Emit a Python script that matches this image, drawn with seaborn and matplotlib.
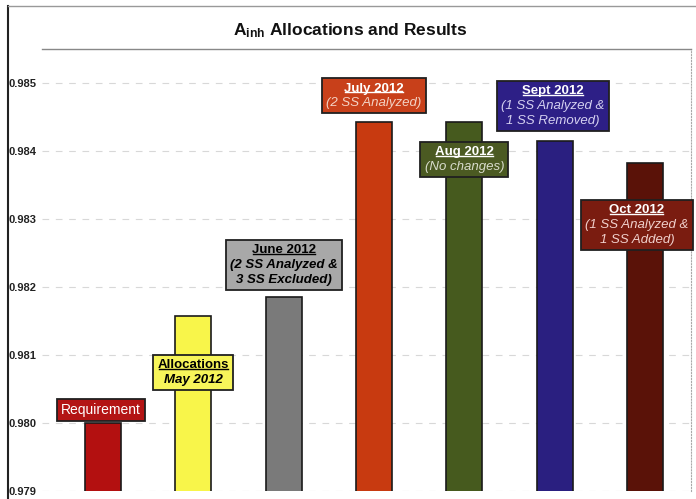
import matplotlib
matplotlib.use("Agg")
import matplotlib.pyplot as plt
import seaborn as sns
import pandas as pd
from matplotlib.offsetbox import TextArea, VPacker, AnnotationBbox
from matplotlib.lines import Line2D
from matplotlib.transforms import IdentityTransform

categories = ["Requirement", "May 2012", "June 2012", "July 2012", "Aug 2012", "Sept 2012", "Oct 2012"]
values = [0.98000, 0.98157, 0.98185, 0.98443, 0.98443, 0.98415, 0.98382]
bar_colors = ["#b31010", "#f8f54a", "#7a7a7a", "#c83a10", "#465a1e", "#2a1f80", "#5a1208"]
box_colors = ["#b31414", "#f7f55a", "#a8a8a8", "#c8401a", "#4b5a22", "#2d1f86", "#7a1c10"]
label_titles = ["Requirement", "Allocations", "June 2012", "July 2012", "Aug 2012", "Sept 2012", "Oct 2012"]
label_details = [[], ["May 2012"], ["(2 SS Analyzed &", "3 SS Excluded)"], ["(2 SS Analyzed)"],
                 ["(No changes)"], ["(1 SS Analyzed &", "1 SS Removed)"], ["(1 SS Analyzed &", "1 SS Added)"]]
label_x = [-0.02, 0.0, 0.0, 0.0, 0.0, -0.02, -0.09]
label_y = [0.98019, 0.98074, 0.98232, 0.98481, 0.98387, 0.98466, 0.98291]
title_colors = ["white", "black", "black", "white", "white", "white", "white"]
detail_colors = ["white", "black", "black", "#f3d2c4", "#d8dccc", "#d4d0f0", "#f0d0cc"]
yticks = [0.979, 0.980, 0.981, 0.982, 0.983, 0.984, 0.985]

plt.rcParams["font.family"] = ["Liberation Sans", "DejaVu Sans"]
plt.rcParams["mathtext.fontset"] = "custom"
plt.rcParams["mathtext.rm"] = "Liberation Sans"
plt.rcParams["mathtext.bf"] = "Liberation Sans:bold"

fig = plt.figure(figsize=(6.96, 4.99), dpi=100)
ax = fig.add_axes([42 / 696, 8 / 499, (691 - 42) / 696, (491 - 49) / 499])

df = pd.DataFrame({"cat": categories, "val": values})
sns.barplot(data=df, x="cat", y="val", hue="cat", palette=bar_colors, legend=False,
            saturation=1, width=0.4, edgecolor="#1a1a1a", linewidth=1.2, ax=ax, zorder=3)

ax.set_ylim(0.979, 0.9855)
ax.set_xlim(-0.675, 6.509)
ax.set_yticks(yticks)
ax.set_yticklabels([f"{t:.3f}" for t in yticks], fontsize=8, fontweight="bold", color="#222222")
ax.tick_params(axis="y", length=0, pad=4)
ax.set_xticks([])
ax.set_xlabel("")
ax.set_ylabel("")
for s in ["left", "bottom"]:
    ax.spines[s].set_visible(False)
ax.spines["top"].set_color("#888888")
ax.spines["top"].set_linewidth(1.0)
ax.spines["right"].set_color("#aaaaaa")
ax.spines["right"].set_linestyle(":")
ax.yaxis.grid(True, linestyle=(0, (6, 6)), color="#d8d8d8", linewidth=0.8, zorder=0)
ax.set_axisbelow(True)

first_areas = []
for i in range(len(categories)):
    is_req = i == 0
    t_area = TextArea(label_titles[i], textprops=dict(
        fontsize=10 if is_req else 9.5, fontweight="normal" if is_req else "bold",
        color=title_colors[i]))
    children = [t_area]
    for d in label_details[i]:
        weight = "bold" if title_colors[i] == "black" else "normal"
        children.append(TextArea(d, textprops=dict(fontsize=9.5, fontstyle="italic", fontweight=weight,
                                                   color=detail_colors[i])))
    pack = VPacker(children=children, align="center", pad=0, sep=2)
    ab = AnnotationBbox(pack, (i + label_x[i], label_y[i]), xycoords="data", frameon=True,
                        pad=0.3, box_alignment=(0.5, 0.5),
                        bboxprops=dict(facecolor=box_colors[i], edgecolor="#202020", linewidth=1.3),
                        zorder=5, annotation_clip=False)
    ax.add_artist(ab)
    if not is_req:
        first_areas.append((t_area, title_colors[i]))

fig.text(0.503, 1 - 31 / 499, r"$\mathbf{A_{inh}}$ Allocations and Results", ha="center",
         va="center", fontsize=12.5, fontweight="bold", color="#111111")

fig.add_artist(Line2D([8 / 696, 8 / 696], [0, 1 - 6 / 499], transform=fig.transFigure,
                      color="#222222", linewidth=1.5))
fig.add_artist(Line2D([8 / 696, 1], [1 - 6 / 499, 1 - 6 / 499], transform=fig.transFigure,
                      color="#999999", linewidth=1.0))

fig.canvas.draw()
renderer = fig.canvas.get_renderer()
for area, col in first_areas:
    bb = area.get_window_extent(renderer)
    yline = bb.y0 + 0.2 * bb.height
    fig.add_artist(Line2D([bb.x0 + 1, bb.x1 - 1], [yline, yline], transform=IdentityTransform(),
                          color=col, linewidth=1.0, zorder=6))

fig.savefig("out.png", dpi=100)
